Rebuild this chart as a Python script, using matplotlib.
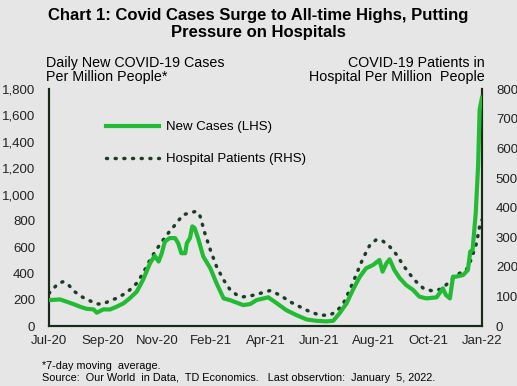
import matplotlib
matplotlib.use("Agg")
import matplotlib.pyplot as plt

plt.rcParams['font.family'] = ['Liberation Sans', 'DejaVu Sans']

# days since Jul 1, 2020 (last observation Jan 5, 2022)
case_days = [0, 14, 23, 31, 40, 48, 57, 61, 69, 78, 86, 95, 103, 112, 120, 129, 135, 140,
             144, 148, 154, 161, 165, 169, 174, 176, 180, 183, 186, 191, 197, 206, 214, 223,
             231, 240, 248, 257, 265, 280, 290, 303, 316, 329, 341, 354, 363, 371, 380, 388,
             397, 405, 414, 422, 426, 431, 435, 441, 448, 456, 465, 473, 482, 495, 503, 507,
             512, 516, 520, 529, 535, 538, 541, 545, 548, 550, 553]
new_cases = [198, 203, 185, 168, 147, 132, 127, 102, 127, 127, 147, 173, 211, 262, 351, 478,
             534, 491, 554, 643, 669, 669, 630, 554, 554, 630, 669, 758, 745, 656, 529, 440,
             325, 211, 198, 178, 160, 168, 198, 219, 178, 122, 84, 51, 41, 36, 41, 97, 173,
             275, 376, 440, 465, 503, 414, 478, 508, 427, 364, 313, 275, 224, 211, 219, 287,
             236, 211, 376, 376, 389, 427, 567, 579, 859, 1215, 1647, 1736]

hosp_days = [0, 6, 12, 18, 25, 33, 42, 52, 61, 69, 78, 86, 95, 103, 112, 120, 129, 137, 146,
             154, 163, 171, 180, 188, 193, 199, 206, 214, 223, 231, 240, 248, 257, 270, 282,
             295, 308, 320, 333, 346, 358, 367, 376, 384, 393, 401, 410, 418, 426, 435, 444,
             452, 460, 469, 478, 488, 499, 507, 516, 524, 533, 539, 546, 550, 553]
hospital = [111, 128, 145, 150, 139, 116, 99, 86, 75, 75, 86, 94, 107, 122, 145, 178, 224,
            258, 292, 320, 348, 376, 382, 388, 371, 314, 258, 201, 156, 124, 105, 99, 102,
            111, 120, 105, 82, 66, 49, 37, 37, 49, 77, 122, 178, 229, 275, 292, 288, 269,
            241, 207, 178, 150, 128, 120, 124, 139, 162, 178, 190, 224, 280, 337, 359]

tick_labels = ["Jul-20", "Sep-20", "Nov-20", "Feb-21", "Apr-21", "Jun-21", "Aug-21",
               "Oct-21", "Jan-22"]

bg = "#E6E6E6"
green = "#22BB33"
dark = "#1E3D28"

fig = plt.figure(figsize=(5.17, 3.86), dpi=100, facecolor=bg)
ax = fig.add_axes([0.0948, 0.155, 0.8375, 0.614], facecolor=bg)
ax2 = ax.twinx()

l1, = ax.plot(case_days, new_cases, color=green, lw=3, label="New Cases (LHS)", zorder=3)
l2, = ax2.plot(hosp_days, hospital, color=dark, lw=2.5, linestyle=(0, (0.3, 2.2)),
               dash_capstyle="round", label="Hospital Patients (RHS)")
ax.set_zorder(ax2.get_zorder() + 1)
ax.patch.set_visible(False)
ax2.patch.set_facecolor(bg)

ax.set_xlim(0, 553)
ax.set_ylim(0, 1800)
ax2.set_ylim(0, 800)
ax.set_yticks(range(0, 1801, 200))
ax.set_yticklabels([f"{v:,}" for v in range(0, 1801, 200)])
ax2.set_yticks(range(0, 801, 100))
ax.set_xticks([553 * i / 8 for i in range(9)])
ax.set_xticklabels(tick_labels)

for a in (ax, ax2):
    a.tick_params(length=0, labelsize=9.5, colors="#222222")
    a.spines["top"].set_visible(False)
    for s in ("left", "right", "bottom"):
        a.spines[s].set_color("#1A2A1A")
        a.spines[s].set_linewidth(1.5)
ax.tick_params(axis="y", pad=10)
ax2.tick_params(axis="y", pad=10)
ax.tick_params(axis="x", pad=6)

ax.legend(handles=[l1, l2], loc="upper left", bbox_to_anchor=(0.105, 0.915), frameon=False,
          fontsize=9.5, handlelength=4.0, labelspacing=1.5, handletextpad=0.5)

fig.text(0.5, 0.978, "Chart 1: Covid Cases Surge to All-time Highs, Putting\nPressure on Hospitals",
         ha="center", va="top", fontsize=12, fontweight="bold", linespacing=1.12)
fig.text(0.089, 0.856, "Daily New COVID-19 Cases\nPer Million People*", ha="left", va="top",
         fontsize=10.3, linespacing=1.08)
fig.text(0.938, 0.856, "COVID-19 Patients in\nHospital Per Million  People", ha="right", va="top",
         fontsize=10.3, linespacing=1.08)
fig.text(0.081, 0.052, "*7-day moving  average.", fontsize=7.8, va="center")
fig.text(0.081, 0.02, "Source:  Our World  in Data,  TD Economics.   Last observtion:  January  5, 2022.",
         fontsize=7.8, va="center")

fig.savefig("out.png", dpi=100, facecolor=bg)
